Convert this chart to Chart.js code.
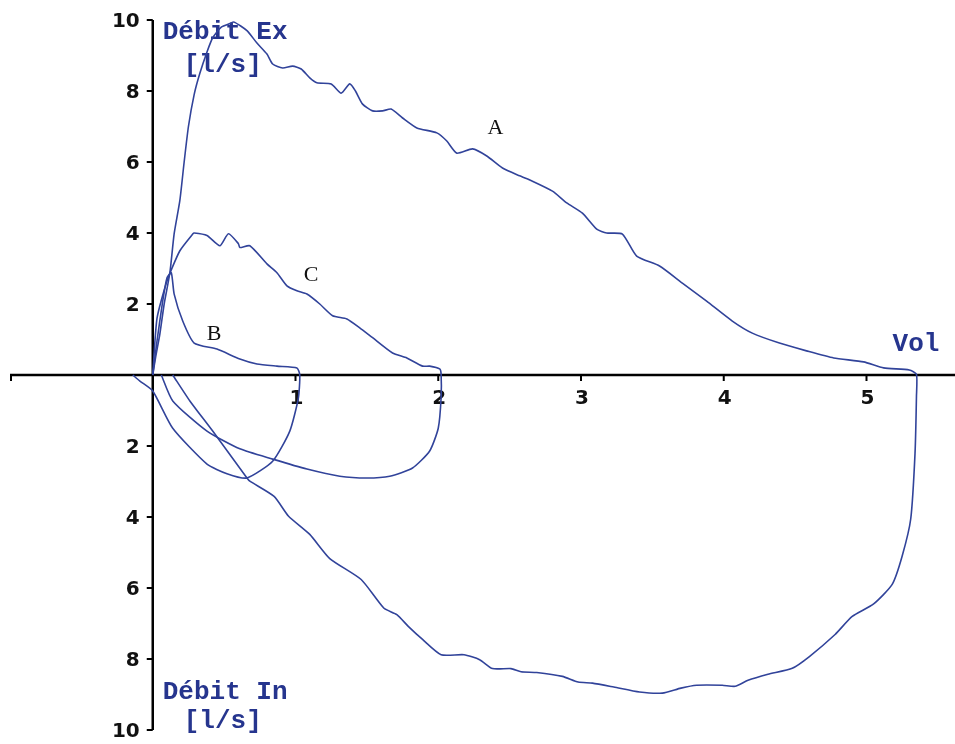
<!DOCTYPE html>
<html>
<head>
<meta charset="utf-8">
<title>Boucles débit-volume</title>
<script src="https://cdn.jsdelivr.net/npm/chart.js@4.4.0/dist/chart.umd.min.js"></script>
<style>
  html, body { margin: 0; padding: 0; background: #ffffff; }
  #wrap { width: 955px; height: 744px; position: relative; }
</style>
</head>
<body>
<div id="wrap"><canvas id="loopChart"></canvas></div>
<script>
// courbe A : expiration puis inspiration
var volA = [0, 0.02, 0.05, 0.08, 0.12, 0.15, 0.19, 0.22, 0.25, 0.29, 0.33, 0.38, 0.42, 0.48, 0.54, 0.57,
  0.66, 0.73, 0.8, 0.84, 0.91, 0.98, 1.04, 1.1, 1.15, 1.25, 1.32, 1.38, 1.42, 1.47, 1.54, 1.61, 1.67,
  1.75, 1.85, 1.99, 2.06, 2.13, 2.24, 2.34, 2.45, 2.57, 2.66, 2.8, 2.9, 3.01, 3.11, 3.18, 3.29, 3.39,
  3.55, 3.71, 3.88, 4.06, 4.2, 4.39, 4.58, 4.77, 4.98, 5.12, 5.3, 5.35,
  5.35, 5.34, 5.31, 5.25, 5.18, 5.05, 4.9, 4.78, 4.6, 4.48, 4.31, 4.17, 4.08, 3.99, 3.81, 3.7, 3.57,
  3.41, 3.23, 3.08, 2.98, 2.87, 2.69, 2.58, 2.51, 2.38, 2.29, 2.18, 2.02, 1.89, 1.79, 1.71, 1.62,
  1.46, 1.24, 1.1, 0.95, 0.85, 0.68, 0.66, 0.42, 0.26, 0.14];
var debitA = [0, 0.5, 1.16, 2.0, 2.88, 3.98, 4.92, 6.0, 7.0, 7.9, 8.5, 9.1, 9.5, 9.8, 9.9, 9.94,
  9.7, 9.35, 9.04, 8.76, 8.65, 8.7, 8.62, 8.37, 8.23, 8.2, 7.94, 8.2, 8.0, 7.63, 7.44, 7.44, 7.49,
  7.24, 6.96, 6.82, 6.59, 6.25, 6.37, 6.17, 5.83, 5.61, 5.46, 5.18, 4.85, 4.56, 4.11, 4.0, 3.97, 3.35,
  3.07, 2.59, 2.08, 1.52, 1.18, 0.9, 0.68, 0.48, 0.37, 0.2, 0.14, 0.02,
  -0.6, -2.2, -4.05, -5.1, -5.9, -6.45, -6.8, -7.31, -7.93, -8.26, -8.43, -8.6, -8.77, -8.74, -8.74, -8.82, -8.96,
  -8.93, -8.79, -8.68, -8.65, -8.49, -8.38, -8.36, -8.27, -8.27, -8.02, -7.88, -7.88, -7.45, -7.08, -6.75, -6.57,
  -5.76, -5.17, -4.49, -3.97, -3.42, -2.99, -2.9, -1.58, -0.73, 0];

// courbe B
var volB = [0, 0.03, 0.07, 0.1, 0.13, 0.15, 0.21, 0.29, 0.45, 0.61, 0.73, 0.87, 1.01, 1.03,
  1.02, 0.96, 0.84, 0.66, 0.52, 0.38, 0.14, 0, -0.09, -0.14];
var debitB = [0, 0.96, 2.09, 2.74, 2.88, 2.28, 1.52, 0.9, 0.73, 0.45, 0.31, 0.25, 0.2, 0,
  -0.65, -1.58, -2.43, -2.9, -2.78, -2.51, -1.5, -0.45, -0.17, 0];

// courbe C
var volC = [0, 0.03, 0.1, 0.19, 0.28, 0.29, 0.38, 0.47, 0.53, 0.6, 0.61, 0.68, 0.8, 0.87, 0.94, 1.01,
  1.08, 1.17, 1.26, 1.36, 1.45, 1.54, 1.68, 1.78, 1.89, 1.94, 2.01, 2.02,
  2.02, 2.0, 1.94, 1.82, 1.66, 1.5, 1.31, 1.08, 0.84, 0.61, 0.38, 0.14, 0.06];
var debitC = [0, 1.6, 2.65, 3.5, 3.97, 4.0, 3.93, 3.64, 3.98, 3.7, 3.59, 3.64, 3.13, 2.88, 2.51, 2.37,
  2.28, 2.0, 1.67, 1.58, 1.33, 1.05, 0.62, 0.48, 0.25, 0.25, 0.17, 0.02,
  -0.65, -1.5, -2.14, -2.62, -2.85, -2.9, -2.85, -2.65, -2.37, -2.08, -1.58, -0.73, 0];

var xTicks = [1, 2, 3, 4, 5];
var yTicks = [10, 8, 6, 4, 2, -2, -4, -6, -8, -10];

var curveNames = ["A", "B", "C"];
var namePosX = [2.4, 0.43, 1.11];
var namePosY = [6.96, 1.15, 2.82];

var lineColor = "#31439a";
var titleColor = "#26358e";

function toPoints(vols, flows) {
  var pts = [];
  for (var i = 0; i < vols.length; i++) {
    pts.push({ x: vols[i], y: flows[i] });
  }
  return pts;
}

function loopDataset(label, vols, flows) {
  return {
    label: label,
    data: toPoints(vols, flows),
    showLine: true,
    borderColor: lineColor,
    borderWidth: 1.6,
    pointRadius: 0,
    tension: 0.2,
    fill: false
  };
}

// axes centrés + textes, dessinés à partir des échelles du graphique
var axesPlugin = {
  id: "centeredAxes",
  beforeDatasetsDraw: function (chart) {
    var ctx = chart.ctx;
    var xs = chart.scales.x;
    var ys = chart.scales.y;
    var x0 = xs.getPixelForValue(0);
    var y0 = ys.getPixelForValue(0);
    var top = ys.getPixelForValue(10);
    var bottom = ys.getPixelForValue(-10);

    ctx.save();
    ctx.strokeStyle = "#000";
    ctx.lineWidth = 2.5;
    ctx.beginPath();
    ctx.moveTo(xs.getPixelForValue(xs.min), y0);
    ctx.lineTo(xs.getPixelForValue(xs.max), y0);
    ctx.moveTo(x0, top);
    ctx.lineTo(x0, bottom);
    ctx.stroke();

    ctx.lineWidth = 2;
    ctx.beginPath();
    var xl = xs.getPixelForValue(xs.min) + 1;
    ctx.moveTo(xl, y0);
    ctx.lineTo(xl, y0 + 6);
    xTicks.forEach(function (v) {
      var px = xs.getPixelForValue(v);
      ctx.moveTo(px, y0);
      ctx.lineTo(px, y0 + 6);
    });
    yTicks.forEach(function (v) {
      var py = ys.getPixelForValue(v);
      ctx.moveTo(x0, py);
      ctx.lineTo(x0 - 6, py);
    });
    ctx.stroke();

    ctx.fillStyle = "#111";
    ctx.font = "bold 20px 'DejaVu Sans', Verdana, sans-serif";
    ctx.textAlign = "center";
    ctx.textBaseline = "top";
    xTicks.forEach(function (v) {
      ctx.fillText(String(v), xs.getPixelForValue(v) + 1, y0 + 14);
    });
    ctx.textAlign = "right";
    ctx.textBaseline = "middle";
    yTicks.forEach(function (v) {
      ctx.fillText(String(Math.abs(v)), x0 - 13, ys.getPixelForValue(v) + 2);
    });

    ctx.fillStyle = titleColor;
    ctx.font = "bold 26px 'Liberation Mono', 'Courier New', monospace";
    ctx.textBaseline = "middle";
    ctx.textAlign = "left";
    ctx.fillText("Débit Ex", x0 + 10, top + 12);
    ctx.fillText("Débit In", x0 + 10, bottom - 38);
    ctx.textAlign = "center";
    ctx.fillText("[l/s]", x0 + 70, top + 45);
    ctx.fillText("[l/s]", x0 + 70, bottom - 9);
    ctx.fillText("Vol", chart.chartArea.right - 39, y0 - 31);

    ctx.fillStyle = "#111";
    ctx.font = "22px 'Liberation Serif', 'Times New Roman', serif";
    for (var i = 0; i < curveNames.length; i++) {
      ctx.fillText(curveNames[i], xs.getPixelForValue(namePosX[i]), ys.getPixelForValue(namePosY[i]));
    }
    ctx.restore();
  }
};

var ctx = document.getElementById("loopChart").getContext("2d");
var loopChart = new Chart(ctx, {
  type: "scatter",
  data: {
    datasets: [
      loopDataset("A", volA, debitA),
      loopDataset("B", volB, debitB),
      loopDataset("C", volC, debitC)
    ]
  },
  options: {
    responsive: true,
    maintainAspectRatio: false,
    animation: false,
    layout: { padding: { left: 10, right: 0, top: 20, bottom: 14 } },
    plugins: {
      legend: { display: false },
      tooltip: { enabled: false }
    },
    scales: {
      x: { type: "linear", min: -1.0, max: 5.62, display: false },
      y: { type: "linear", min: -10, max: 10, display: false }
    }
  },
  plugins: [axesPlugin]
});
</script>
</body>
</html>
